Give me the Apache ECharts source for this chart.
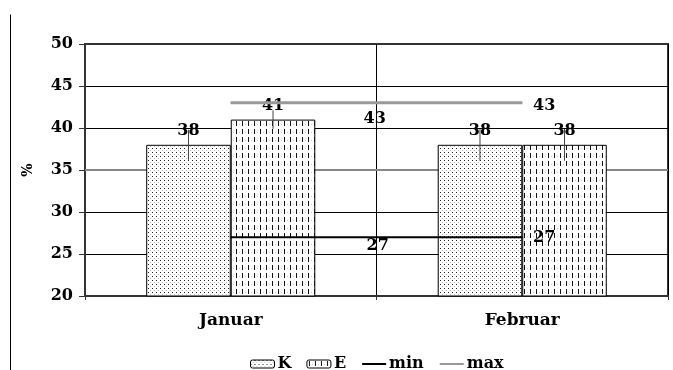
<!DOCTYPE html>
<html>
<head>
<meta charset="utf-8">
<script src="https://cdn.jsdelivr.net/npm/echarts@6/dist/echarts.min.js"></script>
<style>
  html, body { margin: 0; padding: 0; background: #fff; }
  #chart { width: 673px; height: 370px; }
</style>
</head>
<body>
<div id="chart"></div>
<script>
// Monthly shares (%) for groups K and E, with min / max reference lines
const categories = ['Januar', 'Februar'];
const kValues = [38, 38];
const eValues = [41, 38];
const kErrors = [1.8, 1.9];
const eErrors = [1.1, 1.9];
const minValues = [27, 27];
const maxValues = [43, 43];
const yMin = 20, yMax = 50, yStep = 5;
const emphasisLevel = 35;

// label placement for the reference lines (pixel offsets from each point)
const maxLabelOffsets = [[144, 16], [22, 3]];
const minLabelOffsets = [[147, 9], [22, 1]];

const FONT = 'DejaVu Serif';

// hatch fills
function dotPattern() {
  const c = document.createElement('canvas');
  c.width = 4; c.height = 4;
  const g = c.getContext('2d');
  g.fillStyle = '#fff'; g.fillRect(0, 0, 4, 4);
  g.fillStyle = '#222'; g.fillRect(0, 0, 1, 1);
  g.fillStyle = '#bbb'; g.fillRect(2, 2, 1, 1);
  return c;
}
function dashPattern() {
  const c = document.createElement('canvas');
  c.width = 6; c.height = 8;
  const g = c.getContext('2d');
  g.fillStyle = '#fff'; g.fillRect(0, 0, 6, 8);
  g.fillStyle = '#111'; g.fillRect(2, 1, 1, 5);
  g.fillStyle = '#ccc'; g.fillRect(5, 4, 1, 1);
  return c;
}
const kFill = { image: dotPattern(), repeat: 'repeat' };
const eFill = { image: dashPattern(), repeat: 'repeat' };

const barCategoryGap = 0.42;

function errorSeries(values, errors, side) {
  return {
    type: 'custom',
    z: 5,
    silent: true,
    data: values.map((v, i) => [i, v, errors[i]]),
    renderItem(params, api) {
      const i = api.value(0), v = api.value(1), e = api.value(2);
      const band = api.size([1, 0])[0];
      const bw = band * (1 - barCategoryGap) / 2;
      const x = api.coord([i, v])[0] + side * bw / 2;
      const yTop = api.coord([i, v + e])[1];
      const yBot = api.coord([i, v - e])[1];
      return {
        type: 'line',
        shape: { x1: x, y1: yTop, x2: x, y2: yBot },
        style: { stroke: '#444', lineWidth: 1 }
      };
    }
  };
}

function lineData(values, offsets) {
  return values.map((v, i) => ({
    value: v,
    label: { offset: offsets[i] }
  }));
}

const labelStyle = { color: '#000', fontFamily: FONT, fontWeight: 'bold', fontSize: 16 };

const chart = echarts.init(document.getElementById('chart'), null, { renderer: 'canvas' });
chart.setOption({
  animation: false,
  grid: {
    left: 85, right: 5, top: 44, bottom: 74,
    show: true, borderColor: '#333', borderWidth: 2, backgroundColor: 'transparent'
  },
  legend: {
    left: 245, top: 351,
    itemWidth: 24, itemHeight: 8, itemGap: 15,
    textStyle: { color: '#000', fontFamily: FONT, fontWeight: 'bold', fontSize: 16, padding: [0, 0, 0, -2] },
    data: [
      { name: 'K', itemStyle: { borderColor: '#000', borderWidth: 1 } },
      { name: 'E', itemStyle: { borderColor: '#000', borderWidth: 1 } },
      { name: 'min', itemStyle: { opacity: 0 } },
      { name: 'max', itemStyle: { opacity: 0 } }
    ]
  },
  xAxis: {
    type: 'category',
    data: categories,
    boundaryGap: true,
    axisLine: { show: true, lineStyle: { color: '#333', width: 2 } },
    axisTick: { show: true, length: 4, lineStyle: { color: '#333' } },
    splitLine: { show: true, lineStyle: { color: '#000', width: 1 } },
    axisLabel: { margin: 16, color: '#000', fontFamily: FONT, fontWeight: 'bold', fontSize: 17 }
  },
  yAxis: {
    type: 'value',
    min: yMin, max: yMax, interval: yStep,
    name: '%',
    nameLocation: 'middle',
    nameGap: 50,
    nameRotate: 90,
    nameTextStyle: { color: '#000', fontFamily: FONT, fontWeight: 'bold', fontSize: 14 },
    axisLine: { show: true, lineStyle: { color: '#333', width: 2 } },
    axisTick: { show: true, length: 6, lineStyle: { color: '#333' } },
    axisLabel: { margin: 12, color: '#000', fontFamily: FONT, fontWeight: 'bold', fontSize: 16 },
    splitLine: {
      show: true,
      lineStyle: { color: ['#333', '#000', '#000', '#888', '#000', '#000', '#333'], width: 1 }
    }
  },
  series: [
    {
      // heavier grey rule at the 35 % level, kept beneath the bars
      type: 'custom', z: 1, silent: true,
      data: [[emphasisLevel]],
      renderItem(params, api) {
        const cs = params.coordSys;
        const y = api.coord([0, api.value(0)])[1];
        return {
          type: 'line',
          shape: { x1: cs.x, y1: y, x2: cs.x + cs.width, y2: y },
          style: { stroke: '#888', lineWidth: 2 }
        };
      },
      encode: { y: 0 }
    },
    {
      name: 'K', type: 'bar', data: kValues,
      barGap: '0%', barCategoryGap: (barCategoryGap * 100) + '%',
      itemStyle: { color: kFill, borderColor: '#000', borderWidth: 1 },
      label: Object.assign({ show: true, position: 'top', distance: 6 }, labelStyle)
    },
    {
      name: 'E', type: 'bar', data: eValues,
      barGap: '0%', barCategoryGap: (barCategoryGap * 100) + '%',
      itemStyle: { color: eFill, borderColor: '#000', borderWidth: 1 },
      label: Object.assign({ show: true, position: 'top', distance: 6 }, labelStyle)
    },
    errorSeries(kValues, kErrors, -1),
    errorSeries(eValues, eErrors, 1),
    {
      name: 'min', type: 'line', data: lineData(minValues, minLabelOffsets),
      z: 6,
      symbol: 'circle', symbolSize: 1, showSymbol: true,
      lineStyle: { color: '#000', width: 2 },
      itemStyle: { color: '#000' },
      label: Object.assign({ show: true, position: 'inside' }, labelStyle)
    },
    {
      name: 'max', type: 'line', data: lineData(maxValues, maxLabelOffsets),
      z: 6,
      symbol: 'circle', symbolSize: 1, showSymbol: true,
      lineStyle: { color: '#999', width: 3 },
      itemStyle: { color: '#999' },
      label: Object.assign({ show: true, position: 'inside' }, labelStyle)
    }
  ],
  graphic: [
    {
      type: 'line', left: 8, top: 12, silent: true,
      shape: { x1: 0, y1: 0, x2: 0, y2: 358 },
      style: { stroke: '#000', lineWidth: 1 }
    }
  ]
});
</script>
</body>
</html>
